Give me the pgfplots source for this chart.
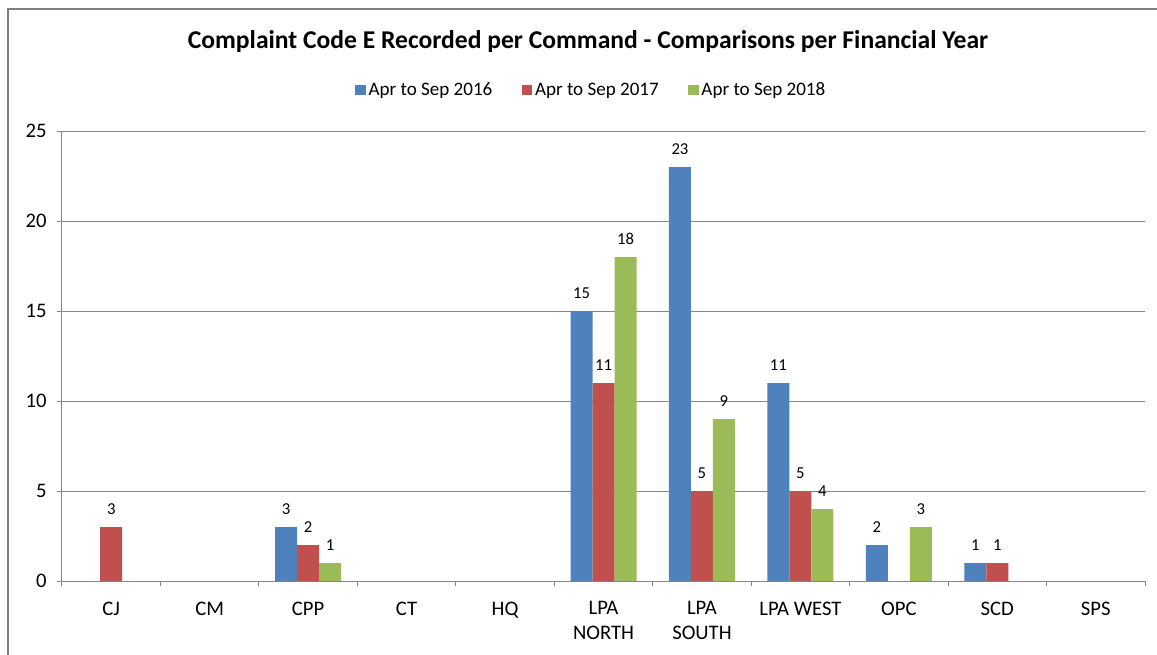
\documentclass[border=0pt]{standalone}
\usepackage{fontspec}
\setmainfont{Carlito}
\usepackage{pgfplots}
\pgfplotsset{compat=1.18}
\definecolor{c16}{HTML}{4F81BD}
\definecolor{c17}{HTML}{C0504D}
\definecolor{c18}{HTML}{9BBB59}
\definecolor{axgray}{HTML}{868686}
\definecolor{frgray}{HTML}{7F7F7F}
\begin{document}
\begin{tikzpicture}[x=0.75pt,y=0.75pt]
\useasboundingbox (0,0) rectangle (1157,654);
\draw[frgray, line width=1.5pt] (8,-20) -- (8,645) -- (1180,645);
\begin{axis}[
  at={(46.5pt,54.75pt)}, anchor=south west,
  scale only axis, width=812.25pt, height=337.5pt,
  xmin=-0.5, xmax=10.5, ymin=0, ymax=25,
  ybar=0pt, bar width=16.5pt,
  axis x line=bottom, axis y line=left,
  axis line style={axgray, line width=0.75pt, -},
  tick align=outside,
  major tick length=4pt,
  tick style={axgray, line width=0.75pt},
  ytick={0,5,10,15,20,25},
  ymajorgrids, grid style={axgray, line width=0.75pt},
  xtick={-0.5,0.5,1.5,2.5,3.5,4.5,5.5,6.5,7.5,8.5,9.5,10.5},
  xticklabels={},
  extra x ticks={0,1,2,3,4,5,6,7,8,9,10},
  extra x tick labels={CJ,CM,CPP,CT,HQ,{LPA\\NORTH},{LPA\\SOUTH},LPA WEST,OPC,SCD,SPS},
  extra x tick style={major tick length=0pt, grid=none},
  xticklabel style={font=\fontsize{15.5}{18.7}\selectfont, align=center, text=black, yshift=-12pt},
  yticklabel style={font=\fontsize{15.5}{18}\selectfont, text=black, xshift=-4pt},
  /pgf/number format/assume math mode=true,
  nodes near coords,
  every node near coord/.append style={font=\fontsize{12.5}{14}\selectfont, text=black, yshift=6pt},
  legend style={at={(0.489,1.091)}, anchor=center, legend columns=-1, draw=none, fill=none,
    font=\fontsize{14.3}{16}\selectfont,
    /tikz/every even column/.append style={column sep=20pt},
    inner sep=0pt},
  legend image code/.code={\fill[#1] (0pt,-4pt) rectangle (8pt,4pt);},
]
\addplot[fill=c16, draw=none] coordinates {(2,3) (5,15) (6,23) (7,11) (8,2) (9,1)};
\addplot[fill=c17, draw=none] coordinates {(0,3) (2,2) (5,11) (6,5) (7,5) (9,1)};
\addplot[fill=c18, draw=none] coordinates {(2,1) (5,18) (6,9) (7,4) (8,3)};
\legend{Apr to Sep 2016, Apr to Sep 2017, Apr to Sep 2018}
\end{axis}
\node[font=\bfseries\fontsize{19.2}{22}\selectfont, text=black] at (588,612) {Complaint Code E Recorded per Command - Comparisons per Financial Year};
\end{tikzpicture}
\end{document}
